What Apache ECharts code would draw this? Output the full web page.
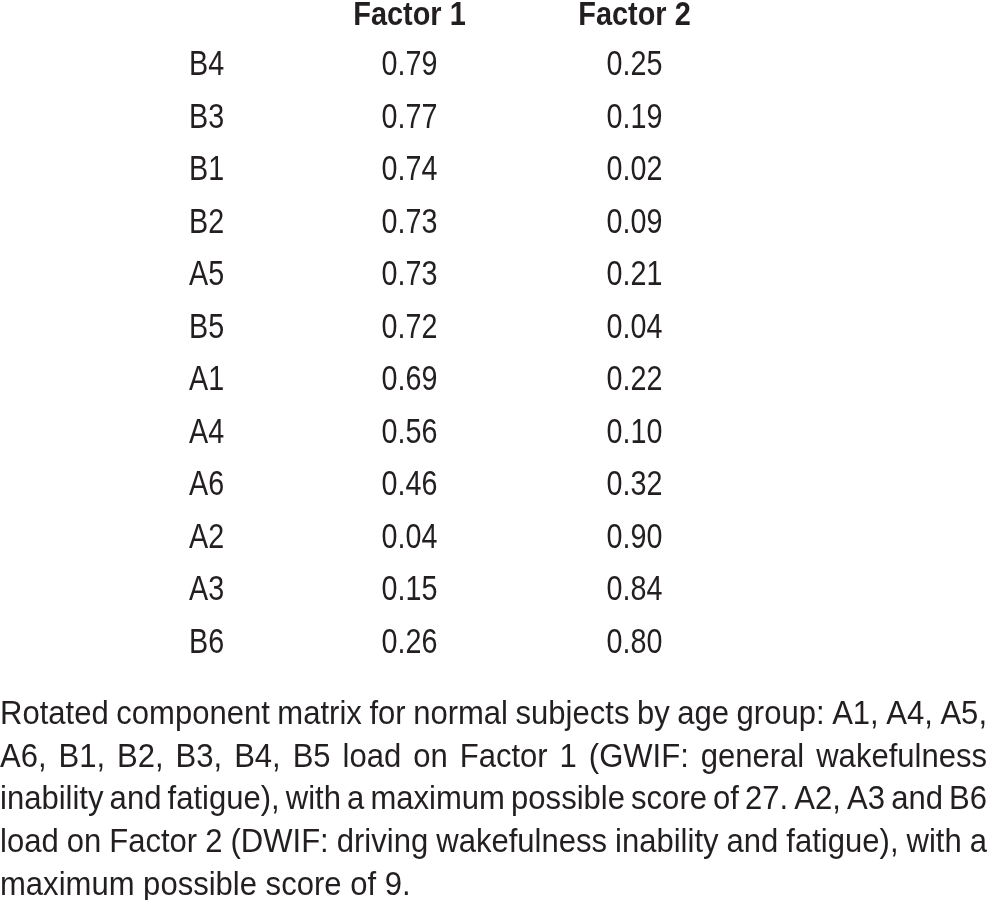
<!DOCTYPE html>
<html>
<head>
<meta charset="utf-8">
<script src="https://cdn.jsdelivr.net/npm/echarts@6/dist/echarts.min.js"></script>
<style>
html,body{margin:0;padding:0;background:#fff;}
#chart{width:988px;height:900px;}
</style>
</head>
<body>
<div id="chart"></div>
<script>
// ---- data ----
const rowLabels = ['B4','B3','B1','B2','A5','B5','A1','A4','A6','A2','A3','B6'];
const columnHeaders = ['Factor 1','Factor 2'];
const factor1 = [0.79,0.77,0.74,0.73,0.73,0.72,0.69,0.56,0.46,0.04,0.15,0.26];
const factor2 = [0.25,0.19,0.02,0.09,0.21,0.04,0.22,0.10,0.32,0.90,0.84,0.80];
const captionLines = [
  'Rotated component matrix for normal subjects by age group: A1, A4, A5,',
  'A6, B1, B2, B3, B4, B5 load on Factor 1 (GWIF: general wakefulness',
  'inability and fatigue), with a maximum possible score of 27. A2, A3 and B6',
  'load on Factor 2 (DWIF: driving wakefulness inability and fatigue), with a',
  'maximum possible score of 9.'
];

// ---- styles ----
const TXT = '#231f20';
const SANS = '"Liberation Sans", Arial, sans-serif';
const CELL_FONT = '35px ' + SANS;
const HEAD_FONT = 'bold 34px ' + SANS;
const CELL_SCALE = 0.82, HEAD_SCALE = 0.85;
const ROW_LABEL_OFFSET = -108;   // px left of first value column centre... (layout)
const HEAD_OFFSET = -24.3;       // px above grid top

const chart = echarts.init(document.getElementById('chart'), null, {renderer:'canvas'});

function textEl(x, y, text, font, scale, align){
  return {
    type:'text', x:x, y:y, scaleX:scale, silent:true,
    style:{text:text, font:font, fill:TXT, align:align, verticalAlign:'middle',
           textAlign:align, textVerticalAlign:'middle'}
  };
}

function cellSeries(values, col){
  return {
    type:'custom',
    silent:true,
    data: values.map((v,i)=>[col,i,v]),
    encode:{x:0,y:1},
    renderItem:(params, api)=>{
      const pt = api.coord([api.value(0), api.value(1)]);
      return textEl(pt[0], pt[1], api.value(2).toFixed(2), CELL_FONT, CELL_SCALE, 'center');
    }
  };
}

const rowLabelSeries = {
  type:'custom', silent:true,
  data: rowLabels.map((r,i)=>[0,i]),
  encode:{x:0,y:1},
  renderItem:(params, api)=>{
    const pt = api.coord([0, api.value(1)]);
    const left = params.coordSys.x + ROW_LABEL_OFFSET;
    return textEl(left, pt[1], rowLabels[params.dataIndex], CELL_FONT, CELL_SCALE, 'left');
  }
};

const headerSeries = {
  type:'custom', silent:true,
  data: columnHeaders.map((h,c)=>[c,0]),
  encode:{x:0,y:1},
  renderItem:(params, api)=>{
    const pt = api.coord([api.value(0), 0]);
    return textEl(pt[0], params.coordSys.y + HEAD_OFFSET, columnHeaders[params.dataIndex], HEAD_FONT, HEAD_SCALE, 'center');
  }
};

// caption with justification
const capSize = 32.5, capScale = 0.955, capW = 987, capY0 = 715, capStep = 42.75;
const ctx = document.createElement('canvas').getContext('2d');
ctx.font = capSize + 'px ' + SANS;
const spaceW = ctx.measureText(' ').width;
const graphics = [];
captionLines.forEach((line, li)=>{
  const words = line.split(' ');
  const ws = words.map(w=>ctx.measureText(w).width);
  const sumRaw = ws.reduce((a,b)=>a+b,0);
  const y = capY0 + capStep*li;
  let s = capScale, gap;
  if (li < captionLines.length-1){
    const minGap = spaceW*0.6;
    s = Math.min(capScale, (capW - (words.length-1)*minGap)/sumRaw);
    gap = (capW - sumRaw*s)/(words.length-1);
  } else {
    gap = spaceW*s;
  }
  let x = 0;
  words.forEach((w,j)=>{
    graphics.push({
      type:'text', x:x, y:y, scaleX:s, silent:true,
      style:{text:w, font:capSize+'px '+SANS, fill:TXT, align:'left', verticalAlign:'middle'}
    });
    x += ws[j]*s + gap;
  });
});

chart.setOption({
  animation:false,
  backgroundColor:'#fff',
  grid:{left:297, width:450, top:39.6, height:629.5, containLabel:false, outerBoundsMode:'none'},
  xAxis:{
    type:'category', data:columnHeaders, position:'top',
    axisLine:{show:false}, axisTick:{show:false}, splitLine:{show:false},
    axisLabel:{show:false}
  },
  yAxis:{
    type:'category', data:rowLabels, inverse:true,
    axisLine:{show:false}, axisTick:{show:false}, splitLine:{show:false},
    axisLabel:{show:false}
  },
  series:[headerSeries, rowLabelSeries, cellSeries(factor1,0), cellSeries(factor2,1)],
  graphic:graphics
});
</script>
</body>
</html>
